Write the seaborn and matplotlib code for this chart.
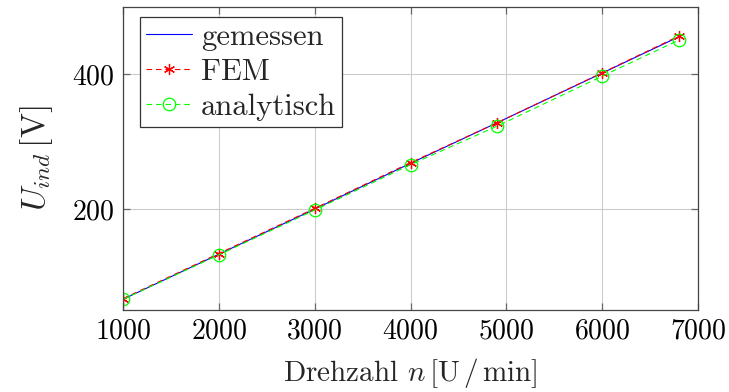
import matplotlib
matplotlib.use("Agg")
import matplotlib.pyplot as plt
import seaborn as sns
import pandas as pd

# Drehzahl in U/min
drehzahl = [1000, 2000, 3000, 4000, 4900, 6000, 6800]
# induzierte Spannung in V
gemessen = [66, 133, 200, 268, 328, 402, 456]
fem = [67, 134, 201, 269, 328, 402.5, 457]
analytisch = [66, 132, 198.5, 266, 323, 397.5, 451]

x_ticks = [1000, 2000, 3000, 4000, 5000, 6000, 7000]
y_ticks = [200, 400]

sns.set_theme(style="ticks")
plt.rcParams.update({
    "font.family": "serif",
    "font.serif": ["cmr10", "DejaVu Serif"],
    "mathtext.fontset": "cm",
    "axes.formatter.use_mathtext": True,
    "axes.unicode_minus": False,
})

FS = 20

df = pd.DataFrame({
    "n": drehzahl * 3,
    "U": gemessen + fem + analytisch,
    "Reihe": ["gemessen"] * 7 + ["FEM"] * 7 + ["analytisch"] * 7,
})

fig = plt.figure(figsize=(7.29, 3.92), dpi=100)
ax = fig.add_axes([0.1687, 0.209, 0.789, 0.773])

asterisk = (6, 2, 0)
dash = (0, (5, 3.5))
sns.lineplot(data=df[df.Reihe == "gemessen"], x="n", y="U", ax=ax,
             color="#0000ff", lw=0.8, label="gemessen")
sns.lineplot(data=df[df.Reihe == "FEM"], x="n", y="U", ax=ax,
             color="#ff0000", lw=0.8, linestyle=dash,
             marker=asterisk, markersize=8, markeredgewidth=0.9,
             markeredgecolor="#ff0000", label="FEM")
sns.lineplot(data=df[df.Reihe == "analytisch"], x="n", y="U", ax=ax,
             color="#00ff00", lw=0.8, linestyle=dash,
             marker="o", markersize=9, markerfacecolor="none",
             markeredgewidth=0.9, markeredgecolor="#00ff00",
             label="analytisch")

ax.set_xlim(1000, 7000)
ax.set_ylim(50, 500)
ax.set_xticks(x_ticks)
ax.set_yticks(y_ticks)
ax.grid(True, color="#cccccc", lw=0.8)
ax.set_axisbelow(True)
for s in ax.spines.values():
    s.set_color("#444444")
    s.set_linewidth(0.9)
ax.tick_params(direction="in", length=5, width=0.9, color="#666666",
               top=True, right=True, labelsize=FS, pad=6, labelcolor="black")

ax.set_xlabel(r"Drehzahl $n\,$[U$\,/\,$min]", fontsize=FS + 1, labelpad=8)
ax.set_ylabel(r"$U_{ind}\,$[V]", fontsize=FS + 4, labelpad=12)

leg = ax.legend(loc="upper left", bbox_to_anchor=(0.0296, 0.967), fontsize=FS + 2,
                frameon=True, fancybox=False, edgecolor="#333333",
                framealpha=1, handlelength=1.5, handletextpad=0.3,
                borderpad=0.2, labelspacing=0.25, borderaxespad=0)
leg.get_frame().set_linewidth(0.9)

fig.savefig("out.png", dpi=100)
